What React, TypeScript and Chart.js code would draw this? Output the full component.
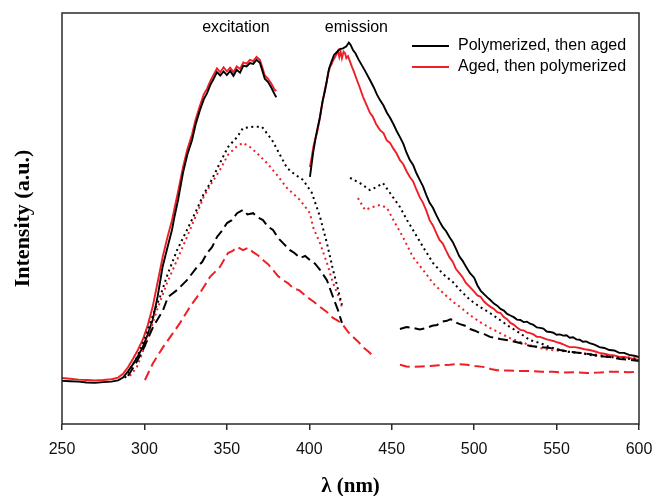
import React, { useEffect, useRef } from "react";
import { Chart, registerables } from "chart.js";

Chart.register(...registerables);

const BLACK = "#000000";
const RED = "#ee1f26";
const SANS = "'Liberation Sans', Arial, Helvetica, sans-serif";
const SERIF = "'Liberation Serif', 'Times New Roman', Times, serif";

const xTicks = [250, 300, 350, 400, 450, 500, 550, 600];
const seriesNames = ["Polymerized, then aged", "Aged, then polymerized"];
const annotations: [string, number, number][] = [
  ["excitation", 355.5, 96.4],
  ["emission", 428.6, 96.4],
];

// ---- excitation spectra ----
const excSolidBlack = [
  [250, 10.5], [255, 10.4], [260, 10.3], [265, 10.1], [270, 10.0], [275, 10.2], [280, 10.3],
  [284, 10.6], [287, 11.3], [290, 12.8], [293, 14.5], [296, 16.5], [299, 18.7], [302, 21.8],
  [305, 25.3], [308, 31.0], [311, 38.2], [314, 43.0], [316.7, 47.2], [318, 50.0], [320.4, 54.5],
  [323.4, 61.1], [326, 65.5], [328.9, 69.1], [331, 72.8], [333.7, 76.4], [336, 79.0], [338, 80.5],
  [340, 82.5], [342, 84.0], [344, 85.6], [346, 84.8], [348, 85.8], [350, 84.9], [352, 85.9],
  [354, 84.7], [356, 86.2], [358, 85.5], [360, 87.2], [362, 87.0], [364, 87.8], [366, 87.6],
  [368, 88.6], [370, 87.9], [371.5, 86.0], [373, 84.0], [375, 83.2], [377, 81.8], [379, 80.2], [380, 79.5],
];
const excSolidRed = [
  [250, 11.2], [255, 11.0], [260, 10.8], [265, 10.7], [270, 10.6], [275, 10.7], [280, 10.9],
  [284, 11.3], [287, 12.2], [290, 13.8], [293, 15.8], [296, 18.0], [299, 20.5], [302, 24.0],
  [305, 28.5], [308, 34.5], [311, 40.5], [314, 45.5], [316.7, 49.5], [318, 52.0], [320.4, 56.5],
  [323.4, 62.5], [326, 66.8], [328.9, 70.5], [331, 74.0], [333.7, 77.5], [336, 80.2], [338, 81.6],
  [340, 83.5], [342, 85.0], [344, 86.5], [346, 85.6], [348, 86.8], [350, 85.8], [352, 86.7],
  [354, 85.6], [356, 87.0], [358, 86.4], [360, 88.0], [362, 87.7], [364, 88.6], [366, 88.3],
  [368, 89.3], [370, 88.6], [371.5, 86.8], [373, 84.8], [375, 84.0], [377, 82.8], [379, 81.3], [380, 81.0],
];
const excDotBlack = [
  [288.2, 11.2], [295.5, 16.3], [300, 20.5], [305.2, 26.5], [309.4, 30.9], [314.3, 36.7],
  [319.8, 42.3], [325.8, 47.2], [331.9, 52.3], [336, 56.0], [339.8, 58.6], [345.8, 63.5],
  [350.7, 67.4], [356.2, 69.8], [359.8, 72.0], [365.9, 72.3], [371.3, 72.3], [377.4, 69.1],
  [382.2, 65.5], [386.5, 62.3], [391, 60.8], [396.2, 59.4], [401.6, 56.2], [406.5, 50.4],
  [410.7, 44.0], [414.4, 37.5], [418.6, 30.9], [419.8, 29.0],
];
const excDotRed = [
  [291.2, 11.7], [295.5, 13.9], [301.6, 20.4], [307.6, 27.7], [313.7, 34.3], [319.8, 39.9],
  [325.8, 45.5], [331.9, 51.3], [336, 55.3], [339.8, 58.0], [345.8, 61.8], [350.7, 65.5],
  [356.2, 67.6], [359.8, 68.4], [364, 67.4], [368.3, 65.9], [374.3, 63.5], [380.4, 60.6],
  [386.5, 57.4], [394.4, 54.5], [400.4, 51.3], [402.3, 47.9], [406.5, 44.0], [410.7, 39.2],
  [414.4, 34.3], [418.6, 30.2], [419.8, 28.5],
];
const excDashBlack = [
  [290, 11.7], [294.3, 14.4], [299.1, 18.0], [305.2, 23.6], [311.3, 27.7], [314.3, 30.9],
  [319.8, 32.6], [325.8, 35.0], [331.9, 38.2], [335, 39.4], [338, 41.6], [341, 43.0], [344, 45.5],
  [347, 47.0], [350.1, 48.9], [353, 49.6], [356.2, 51.3], [359.8, 52.1], [362.5, 51.0],
  [365.9, 51.3], [369, 50.2], [371.9, 49.6], [375, 48.0], [378, 47.2], [381, 45.3], [384.1, 44.0],
  [388.3, 42.3], [391, 41.6], [394.4, 40.4], [397.5, 40.9], [400.4, 39.9], [403.5, 39.0],
  [406.5, 37.5], [410.7, 35.0], [414.4, 30.9], [417.4, 27.7], [419.8, 24.6],
];
const excDashRed = [
  [300.3, 10.7], [305.2, 14.8], [311.3, 18.7], [317.3, 22.1], [321.6, 24.6], [327.6, 28.5],
  [333.7, 31.9], [339.8, 35.8], [345.8, 38.2], [350.7, 41.6], [353.5, 42.1], [356.2, 43.1],
  [359.8, 42.3], [363, 42.9], [365.9, 41.8], [369, 41.0], [371.9, 39.9], [375, 38.9], [378, 37.5],
  [381, 36.0], [384.1, 35.0], [387, 34.3], [390.1, 33.1], [394, 32.5], [398.6, 30.9],
  [402.5, 29.8], [406.5, 28.5], [410.5, 27.3], [414.4, 25.8], [417.5, 25.1], [420.4, 24.1],
  [423.5, 22.4], [426.5, 21.2], [429.5, 20.1], [432.6, 18.7], [436, 17.6], [439.9, 16.1],
];

// ---- emission spectra ----
const emSolidBlack = [
  [400.4, 60.1], [401.5, 63.5], [402.3, 65.9], [404, 70.0], [405, 72.0], [406.5, 74.7], [408, 78.5],
  [409.5, 81.0], [410.7, 83.7], [412, 86.5], [413.5, 88.2], [415, 89.8], [416.5, 90.4], [418.6, 91.2],
  [420.5, 91.4], [422.5, 91.9], [424, 92.8], [425, 92.3], [426.5, 91.0], [428, 90.2], [430, 88.6],
  [432, 87.2], [434, 85.8], [436.8, 83.7], [439, 82.0], [441, 80.2], [442.9, 78.8], [445, 77.5],
  [447, 75.8], [449, 74.5], [451, 73.0], [453, 71.3], [455, 69.8], [457, 68.2], [459, 66.0],
  [461, 64.2], [463, 63.0], [465, 61.0], [467, 59.4], [469, 57.8], [471, 55.7], [473, 53.8],
  [475, 52.6], [477, 50.9], [479, 49.3], [481, 47.9], [483, 46.9], [485, 45.5], [487, 44.3],
  [489, 42.6], [491, 40.8], [493, 39.7], [495, 38.3], [497.5, 36.7], [500, 35.6], [502, 33.7],
  [504, 32.4], [506, 31.6], [508, 30.8], [510, 30.1], [512, 29.3], [514, 28.8], [516, 28.0],
  [518, 27.6], [520, 26.8], [522, 26.4], [524, 26.0], [526, 25.4], [528, 25.3], [530, 24.8],
  [532, 24.9], [534, 24.4], [536, 24.1], [538, 23.5], [540, 23.4], [542, 23.2], [544, 22.5],
  [546, 22.4], [548, 22.2], [550, 21.7], [552, 21.8], [554, 21.5], [556, 21.6], [558, 21.0],
  [560, 21.1], [562, 20.6], [564, 20.5], [566, 20.0], [568, 20.1], [570, 19.7], [573, 19.3],
  [576, 18.7], [579, 18.5], [582, 18.0], [585, 17.9], [588, 17.3], [591, 17.3], [594, 16.8],
  [597, 16.6], [600, 16.3],
];
const emSolidRed = [
  [400.4, 62.5], [401.5, 65.0], [402.5, 67.5], [403.5, 69.2], [404.7, 70.8], [406, 73.5], [407, 76.0],
  [408.3, 78.8], [409.5, 81.5], [410.5, 83.0], [411.5, 85.5], [412.6, 86.9], [413.5, 87.5],
  [414.5, 88.5], [415.6, 89.3], [416.5, 90.0], [417.4, 90.8], [418.2, 89.3], [419, 90.6],
  [419.8, 89.0], [420.8, 90.6], [421.7, 90.2], [422.5, 89.0], [423.5, 89.5], [424.5, 88.4],
  [425.9, 86.9], [427, 85.8], [428.9, 83.7], [430.5, 82.0], [432.6, 79.6], [434.5, 77.8],
  [436.8, 75.7], [438.5, 74.8], [440.5, 73.0], [442.9, 71.5], [445, 70.8], [447, 69.0],
  [449, 68.4], [451, 67.0], [453, 65.8], [455, 64.2], [457, 63.2], [459, 61.5], [461, 60.1],
  [463, 59.0], [465, 57.0], [467, 55.2], [469, 53.8], [471, 51.9], [473, 49.6], [475, 48.3],
  [477, 46.5], [479, 44.8], [481, 43.9], [483, 42.2], [485, 40.6], [487, 39.5], [489, 37.7],
  [491, 36.7], [493, 35.7], [495, 34.3], [497.5, 33.3], [500, 32.2], [502, 31.3], [504, 30.9],
  [506, 29.8], [508, 29.1], [510, 28.5], [512, 28.0], [514, 27.2], [516, 27.0], [518, 26.0],
  [520, 25.5], [522, 24.6], [524, 24.2], [526, 23.5], [528, 22.9], [530, 22.8], [532, 22.3],
  [534, 22.1], [536, 21.8], [538, 21.2], [540, 21.2], [542, 20.9], [544, 20.6], [546, 20.4],
  [548, 20.2], [550, 19.9], [552, 19.7], [554, 19.4], [556, 19.0], [558, 18.7], [561, 18.7],
  [564, 18.5], [567, 18.2], [570, 18.0], [573, 17.7], [576, 17.3], [579, 17.1], [582, 16.8],
  [585, 16.7], [588, 16.3], [591, 16.3], [594, 16.1], [597, 15.8], [600, 15.6],
];
const emDotBlack = [
  [424.7, 59.9], [430.8, 58.6], [436.8, 56.9], [441.1, 57.7], [444.7, 58.6], [449, 56.2],
  [455, 52.8], [459.3, 49.6], [462.9, 47.2], [469, 43.1], [475, 39.2], [481.1, 36.5],
  [487.2, 34.5], [491.4, 32.6], [497.5, 30.2], [503.5, 28.5], [509.6, 27.0], [515.7, 25.3],
  [521.7, 23.6], [527.8, 22.1], [533.9, 20.4], [539.9, 19.7], [546, 18.7], [552.1, 18.0],
  [558.1, 17.5], [564.2, 17.3], [570.3, 16.8], [576.3, 16.5], [588.5, 16.1], [600, 15.6],
];
const emDotRed = [
  [429.5, 55.0], [433.8, 52.1], [438.6, 52.8], [442.9, 53.3], [447.1, 52.6], [452, 48.9],
  [456.8, 45.5], [462.9, 40.6], [469, 37.5], [475, 34.3], [481.1, 31.9], [487.2, 29.7],
  [491.4, 28.5], [497.5, 26.5], [503.5, 24.8], [509.6, 23.4], [515.7, 22.1], [521.7, 20.9],
  [527.8, 20.0], [533.9, 19.2], [539.9, 18.5], [546, 18.0], [552.1, 17.8], [564.2, 17.3],
  [576.3, 16.8], [588.5, 16.3], [600, 16.1],
];
const emDashBlack = [
  [455, 23.1], [459, 23.6], [462.9, 23.4], [467, 23.0], [471.4, 23.4], [474.5, 23.9],
  [477.5, 24.1], [480.5, 24.9], [483.5, 25.1], [485.5, 25.5], [487.2, 25.3], [489.5, 24.6],
  [491.4, 24.3], [494.5, 23.9], [497.5, 23.1], [500.5, 22.7], [503.5, 22.1], [506.5, 21.8],
  [509.6, 21.2], [512.5, 21.0], [515.7, 20.7], [521.7, 20.3], [527.8, 19.7], [533.9, 19.0],
  [539.9, 18.7], [546, 18.5], [552.1, 18.0], [558, 17.6], [564.2, 17.3], [570, 17.0],
  [576.3, 16.5], [582.5, 16.3], [588.5, 15.8], [594.5, 15.6], [600, 15.3],
];
const emDashRed = [
  [455, 14.4], [459, 14.0], [462.9, 13.9], [468, 14.0], [473.2, 14.1], [479, 14.3],
  [485.4, 14.4], [490, 14.6], [495.7, 14.4], [500.5, 14.1], [505.4, 13.9], [510, 13.4],
  [513.9, 13.1], [520, 13.0], [527.8, 12.9], [535, 12.9], [541, 12.7], [547.8, 12.7],
  [554, 12.5], [561, 12.6], [568.5, 12.4], [575, 12.5], [582, 12.7], [588.5, 12.7],
  [594, 12.6], [600, 12.7],
];

type Style = "solid" | "dot" | "dash";
const curves: [number[][], string, Style][] = [
  [excDashBlack, BLACK, "dash"],
  [excDashRed, RED, "dash"],
  [excDotBlack, BLACK, "dot"],
  [excDotRed, RED, "dot"],
  [excSolidBlack, BLACK, "solid"],
  [excSolidRed, RED, "solid"],
  [emDashBlack, BLACK, "dash"],
  [emDashRed, RED, "dash"],
  [emDotBlack, BLACK, "dot"],
  [emDotRed, RED, "dot"],
  [emSolidBlack, BLACK, "solid"],
  [emSolidRed, RED, "solid"],
];

const overlayPlugin = {
  id: "overlay",
  afterDraw(chart: any) {
    const { ctx, chartArea, scales } = chart;
    const { left, right, top, bottom } = chartArea;
    ctx.save();
    // plot frame
    ctx.strokeStyle = "#2a2a2a";
    ctx.lineWidth = 1.5;
    ctx.strokeRect(left, top, right - left, bottom - top);
    // annotations
    ctx.fillStyle = "#000";
    ctx.font = `16px ${SANS}`;
    ctx.textAlign = "center";
    ctx.textBaseline = "middle";
    annotations.forEach(([t, xv, yv]) => {
      ctx.fillText(t, scales.x.getPixelForValue(xv), scales.y.getPixelForValue(yv));
    });
    // legend
    const lx0 = right - 227;
    const lx1 = right - 190;
    const tx = right - 181;
    const colors = [BLACK, RED];
    seriesNames.forEach((name, i) => {
      const y = top + 33 + i * 21;
      ctx.strokeStyle = colors[i];
      ctx.lineWidth = 2;
      ctx.setLineDash([]);
      ctx.beginPath();
      ctx.moveTo(lx0, y);
      ctx.lineTo(lx1, y);
      ctx.stroke();
      ctx.fillStyle = "#000";
      ctx.textAlign = "left";
      ctx.fillText(name, tx, y);
    });
    ctx.restore();
  },
};

export default function App() {
  const ref = useRef<HTMLCanvasElement | null>(null);
  useEffect(() => {
    if (!ref.current) return;
    const datasets = curves.map(([pts, color, style]) => ({
      data: pts.map(([x, y]) => ({ x, y })),
      borderColor: color,
      backgroundColor: color,
      borderWidth: style === "solid" ? 1.9 : 2,
      borderDash: style === "dot" ? [2, 3.5] : style === "dash" ? [10, 5] : [],
      borderCapStyle: "butt" as const,
      pointRadius: 0,
      fill: false,
      tension: 0,
    }));
    const chart = new Chart(ref.current, {
      type: "line",
      data: { datasets },
      options: {
        responsive: false,
        animation: false,
        events: [],
        layout: { padding: { top: 13, right: 15, left: 0, bottom: 0 } },
        plugins: { legend: { display: false }, tooltip: { enabled: false } },
        scales: {
          x: {
            type: "linear",
            min: 250,
            max: 600,
            afterBuildTicks: (s: any) => {
              s.ticks = xTicks.map((v) => ({ value: v }));
            },
            ticks: { color: "#111", font: { family: SANS, size: 16 }, padding: 10, maxRotation: 0 },
            grid: { display: true, drawOnChartArea: false, drawTicks: true, tickLength: 6, color: "#2a2a2a", lineWidth: 1.5 },
            border: { display: false },
            title: {
              display: true,
              text: "λ (nm)",
              color: "#000",
              font: { family: SERIF, size: 21, weight: "bold", lineHeight: 0.85 },
              padding: { top: 0, bottom: 0 },
            },
            afterFit: (s: any) => {
              s.height = 72;
              s.paddingLeft = 0;
              s.paddingRight = 0;
            },
          },
          y: {
            min: 0,
            max: 100,
            ticks: { display: false },
            grid: { display: false },
            border: { display: false },
            title: {
              display: true,
              text: "Intensity (a.u.)",
              color: "#000",
              font: { family: SERIF, size: 22, weight: "bold", lineHeight: 1 },
              padding: { top: 12, bottom: 0 },
            },
            afterFit: (s: any) => {
              s.width = 62;
              s.paddingTop = 0;
              s.paddingBottom = 0;
            },
          },
        },
      } as any,
      plugins: [overlayPlugin],
    });
    return () => chart.destroy();
  }, []);
  return (
    <div style={{ position: "fixed", left: 0, top: 0, width: 654, height: 496, background: "#fff" }}>
      <canvas ref={ref} width={654} height={496} style={{ width: 654, height: 496, display: "block" }} />
    </div>
  );
}
